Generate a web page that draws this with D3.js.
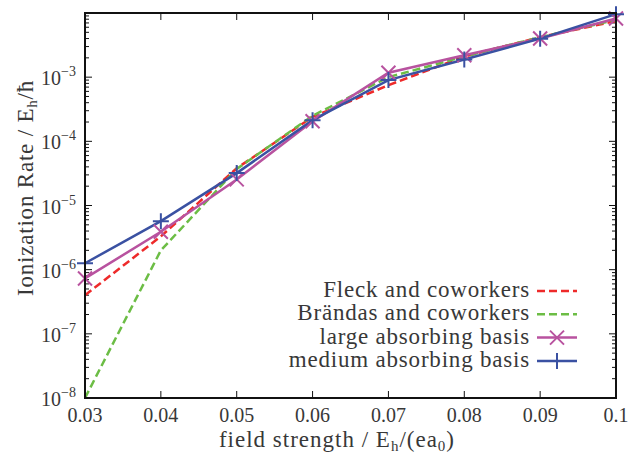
<!DOCTYPE html>
<html>
<head>
<meta charset="utf-8">
<script src="https://cdn.jsdelivr.net/npm/d3@7"></script>
<style>
  body { margin: 0; background: #fff; }
  text { font-family: "Liberation Serif", "DejaVu Serif", serif; fill: #383838; }
</style>
</head>
<body>
<div id="chart"></div>
<script>
// field strength values (x)
const fields = [0.03, 0.04, 0.05, 0.06, 0.07, 0.08, 0.09, 0.1];
const xTickLabels = ["0.03", "0.04", "0.05", "0.06", "0.07", "0.08", "0.09", "0.1"];

// ionization rates
const fleck = [4.0e-7, 3.3e-6, 3.8e-5, 2.4e-4, 7.5e-4, 2.1e-3, 4.2e-3, 7.5e-3];
const brandas = [1.0e-8, 2.0e-6, 3.7e-5, 2.5e-4, 1.0e-3, 2.1e-3, 4.2e-3, 7.8e-3];
const largeBasis = [7.3e-7, 3.9e-6, 2.55e-5, 2.05e-4, 1.17e-3, 2.2e-3, 4.0e-3, 8.2e-3];
const mediumBasis = [1.26e-6, 5.7e-6, 3.2e-5, 2.14e-4, 9.0e-4, 1.88e-3, 3.98e-3, 9.6e-3];

const yExponents = [-8, -7, -6, -5, -4, -3];

const seriesNames = ["Fleck and coworkers", "Brändas and coworkers", "large absorbing basis", "medium absorbing basis"];
const seriesColors = ["#ee2a2a", "#6cbd45", "#b8529f", "#3a51a2"];

const W = 628, H = 454;
const margin = { top: 13, right: 12, bottom: 56, left: 85 };
const width = W - margin.left - margin.right;
const height = H - margin.top - margin.bottom;

const svg = d3.select("#chart").append("svg")
    .attr("width", W)
    .attr("height", H);

const g = svg.append("g")
    .attr("transform", `translate(${margin.left},${margin.top})`);

const x = d3.scaleLinear().domain([0.03, 0.1]).range([0, width]);
const y = d3.scaleLog().domain([1e-8, 1e-2]).range([height, 0]);

// minor log ticks
const minorTicks = [];
for (let e = -8; e < -2; e++) {
    for (let m = 2; m <= 9; m++) minorTicks.push(m * Math.pow(10, e));
}

// ticks (inside, on all four sides)
const tickG = g.append("g").attr("stroke", "#111").attr("stroke-width", 1);
fields.forEach(f => {
    tickG.append("line").attr("x1", x(f)).attr("x2", x(f)).attr("y1", height).attr("y2", height - 7);
    tickG.append("line").attr("x1", x(f)).attr("x2", x(f)).attr("y1", 0).attr("y2", 7);
});
yExponents.concat([-2]).forEach(e => {
    const v = Math.pow(10, e);
    tickG.append("line").attr("x1", 0).attr("x2", 7).attr("y1", y(v)).attr("y2", y(v));
    tickG.append("line").attr("x1", width).attr("x2", width - 7).attr("y1", y(v)).attr("y2", y(v));
});
minorTicks.forEach(v => {
    tickG.append("line").attr("x1", 0).attr("x2", 4).attr("y1", y(v)).attr("y2", y(v));
    tickG.append("line").attr("x1", width).attr("x2", width - 4).attr("y1", y(v)).attr("y2", y(v));
});

// x tick labels
g.append("g").selectAll("text")
    .data(fields)
    .enter().append("text")
    .attr("x", d => x(d))
    .attr("y", height + 24)
    .attr("text-anchor", "middle")
    .style("font-size", "20px")
    .text((d, i) => xTickLabels[i]);

// y tick labels
const yl = g.append("g").selectAll("text")
    .data(yExponents)
    .enter().append("text")
    .attr("x", -9)
    .attr("y", d => y(Math.pow(10, d)) + 8)
    .attr("text-anchor", "end")
    .style("font-size", "20px");
yl.append("tspan").text("10");
yl.append("tspan").attr("dy", -9).style("font-size", "14px").text(d => "\u2212" + (-d));

// lines
const line = d3.line()
    .x(d => x(d[0]))
    .y(d => y(d[1]));

const allSeries = [fleck, brandas, largeBasis, mediumBasis];
const dashes = ["8,4", "8,4", null, null];

const plot = g.append("g");
allSeries.forEach((vals, i) => {
    plot.append("path")
        .datum(fields.map((f, j) => [f, vals[j]]))
        .attr("fill", "none")
        .attr("stroke", seriesColors[i])
        .attr("stroke-width", 2.5)
        .attr("stroke-dasharray", dashes[i])
        .attr("d", line);
});

function cross(sel, cx, cy, color, s) {
    sel.append("path")
        .attr("d", `M${cx - s},${cy - s}L${cx + s},${cy + s}M${cx - s},${cy + s}L${cx + s},${cy - s}`)
        .attr("stroke", color).attr("stroke-width", 2).attr("fill", "none");
}
function plus(sel, cx, cy, color, s) {
    sel.append("path")
        .attr("d", `M${cx - s},${cy}L${cx + s},${cy}M${cx},${cy - s}L${cx},${cy + s}`)
        .attr("stroke", color).attr("stroke-width", 2).attr("fill", "none");
}

fields.forEach((f, j) => {
    cross(plot, x(f), y(largeBasis[j]), seriesColors[2], 7);
});
fields.forEach((f, j) => {
    plus(plot, x(f), y(mediumBasis[j]), seriesColors[3], 8);
});

// frame
g.append("rect")
    .attr("width", width).attr("height", height)
    .attr("fill", "none").attr("stroke", "#111").attr("stroke-width", 2);

// legend
const legend = g.append("g").attr("transform", `translate(${width - 79}, 0)`);
seriesNames.forEach((name, i) => {
    const ly = 278 + i * 23.3;
    legend.append("text")
        .attr("x", -7).attr("y", ly + 6)
        .attr("text-anchor", "end")
        .style("font-size", "23px")
        .style("letter-spacing", "0.8px")
        .text(name);
    legend.append("line")
        .attr("x1", 0).attr("x2", 40).attr("y1", ly).attr("y2", ly)
        .attr("stroke", seriesColors[i]).attr("stroke-width", 2.5)
        .attr("stroke-dasharray", dashes[i]);
    if (i === 2) cross(legend, 20, ly, seriesColors[i], 7);
    if (i === 3) plus(legend, 20, ly, seriesColors[i], 8);
});

// axis titles
const xt = svg.append("text")
    .attr("x", 337)
    .attr("y", 447)
    .attr("text-anchor", "middle")
    .style("font-size", "23px")
    .style("letter-spacing", "1px");
xt.append("tspan").text("field strength / E");
xt.append("tspan").attr("dy", 4).style("font-size", "15px").text("h");
xt.append("tspan").attr("dy", -4).text("/(ea");
xt.append("tspan").attr("dy", 4).style("font-size", "15px").text("0");
xt.append("tspan").attr("dy", -4).text(")");

const yt = svg.append("text")
    .attr("transform", `translate(33, 188) rotate(-90)`)
    .attr("text-anchor", "middle")
    .style("font-size", "23px")
    .style("letter-spacing", "0.8px");
yt.append("tspan").text("Ionization Rate / E");
yt.append("tspan").attr("dy", 4).style("font-size", "15px").text("h");
yt.append("tspan").attr("dy", -4).text("/\u0127");
</script>
</body>
</html>
